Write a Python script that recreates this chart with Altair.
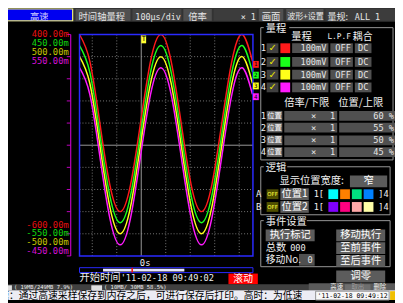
import altair as alt
import pandas as pd

# ---------------- values ----------------
channels = ["1", "2", "3", "4"]
wave_colors = ["#ff1a1a", "#1aff1a", "#ffff1a", "#ff1aff"]
label_colors = ["#e81010", "#10d810", "#c8c800", "#d810d8"]
positions_pct = [60, 55, 50, 45]
volts_per_div = [0.1, 0.1, 0.1, 0.1]
range_labels = ["100mV", "100mV", "100mV", "100mV"]
lpf_labels = ["OFF", "OFF", "OFF", "OFF"]
coupling_labels = ["DC", "DC", "DC", "DC"]
magnifications = [1, 1, 1, 1]

# one recorded waveform (same on all four inputs), sampled every 1/8 period
time_us = [-252, -210, -169, -128, -86, -44, -3, 38, 80, 122, 163, 204,
           246, 288, 329, 370, 412, 454]
signal_v = [0.40, 0.28, 0.00, -0.28, -0.40, -0.28, 0.00, 0.28, 0.40, 0.28,
            0.00, -0.28, -0.40, -0.28, 0.00, 0.28, 0.40, 0.28]

time_domain = [-252, 456]
time_grid_us = [-200, -100, 100, 200, 300, 400]
div_grid = [1, 2, 3, 4, 6, 7, 8, 9]
div_ticks = [0, 1, 2, 3, 4, 5, 6, 7, 8, 9, 10]

logic_a_colors = ["#00ffff", "#ff8000", "#00e080", "#0080ff"]
logic_b_colors = ["#8000ff", "#ff0080", "#ffa8a8", "#ffffa8"]

start_time = "'11-02-18 09:49:02"
clock_time = "'11-02-18 09:49:12"

# ---------------- layout helpers (page pixels -> chart pixels) ----------------
M = 8
X_RANGE = [81 - M, 258 - M]
Y_RANGE = [258 - M, 32 - M]
CJK = "Noto Sans CJK SC"
MONO = "DejaVu Sans Mono"
SANS = "DejaVu Sans"

rect_rows = []


def R(x1, y1, x2, y2, fill, stroke="transparent", sw=1.0):
    rect_rows.append(dict(x=x1 - M, y=y1 - M, x2=x2 - M, y2=y2 - M,
                          fill=fill, stroke=stroke, sw=sw))


top_rows = []


def R2(x1, y1, x2, y2, fill, stroke="transparent", sw=1.0):
    top_rows.append(dict(x=x1 - M, y=y1 - M, x2=x2 - M, y2=y2 - M,
                         fill=fill, stroke=stroke, sw=sw))


texts = []


def T(x, y, s, color="#e8e8e8", size=9, align="left", font=MONO):
    texts.append(dict(x=x - M, y=y - M, text=s, color=color, size=size,
                      align=align, font=font))


BTN = "#505050"
BTXT = "#e6e6e6"

# header bar
HY = 13.8
R(0, 5, 403, 19, "#333333")
R(5, 6, 74, 18, "#0000f0", "#f0f080", 1.2)
T(40, HY, "高速", "#d0d0ff", 9.5, "center", CJK)
R(77, 6, 133, 18, BTN)
T(80, HY, "时间轴量程", BTXT, 9.5, "left", CJK)
R(135, 6, 185, 18, "#444444")
T(138, HY, "100µs/div", BTXT, 8.6, "left", MONO)
R(187, 6, 216, 18, BTN)
T(192, HY, "倍率", BTXT, 9.5, "left", CJK)
R(218, 6, 262, 18, "#3c3c3c")
T(261, HY, "× 1", BTXT, 8.6, "right", MONO)
R(264, 6, 289, 18, BTN)
T(267, HY, "画面", BTXT, 9.5, "left", CJK)
R(292, 6, 330, 18, BTN)
T(293, HY, "波形+设置", BTXT, 8.2, "left", CJK)
R(332, 6, 403, 18, "#3c3c3c")
T(334, HY, "量规:", BTXT, 9.2, "left", CJK)
T(362, HY, "ALL 1", BTXT, 8.6, "left", MONO)

# ---- right panel: group 1 (量程) ----
R(266, 25, 401, 160, "transparent", "#9a9a9a", 1)
R(269, 20, 295, 30, "#000000")
T(271, 26, "量程", "#f0f0f0", 10.5, "left", CJK)
T(297, 35, "量程", "#f0f0f0", 10.5, "left", CJK)
T(334, 35, "L.P.F", "#f0f0f0", 8, "left", MONO)
T(360, 35, "耦合", "#f0f0f0", 10, "left", CJK)
row_y = [46, 60, 73, 86]
for i in range(4):
    y = row_y[i]
    T(266, y, channels[i], "#f0f0f0", 9, "left", MONO)
    R(272, y - 5, 284, y + 5, "#404040")
    T(278, y, "✓", "#e8e800", 10, "center", SANS)
    R(286, y - 5, 296, y + 5, wave_colors[i])
    R(298, y - 5, 335, y + 5, BTN)
    T(333, y, range_labels[i], BTXT, 8.8, "right", MONO)
    R(337, y - 5, 360, y + 5, BTN)
    T(358, y, lpf_labels[i], BTXT, 8.8, "right", MONO)
    R(362, y - 5, 379, y + 5, BTN)
    T(370.5, y, coupling_labels[i], BTXT, 8.8, "center", MONO)

T(290, 102, "倍率/下限", "#f0f0f0", 10.5, "left", CJK)
T(345, 102, "位置/上限", "#f0f0f0", 10.5, "left", CJK)
row2_y = [115, 127, 140, 152]
for i in range(4):
    y = row2_y[i]
    T(266, y, channels[i], "#f0f0f0", 9, "left", MONO)
    R(272, y - 5, 288, y + 5, "#666666")
    T(280, y, "位置", "#ffffff", 7.5, "center", CJK)
    R(290, y - 5, 344, y + 5, BTN)
    T(320, y, "×", BTXT, 9, "center", MONO)
    T(342, y, str(magnifications[i]), BTXT, 8.8, "right", MONO)
    R(346, y - 5, 404, y + 5, BTN)
    T(402, y, f"{positions_pct[i]} %", BTXT, 8.8, "right", MONO)

# ---- group 2 (逻辑) ----
R(266, 167, 398, 216, "transparent", "#9a9a9a", 1)
R(269, 162, 293, 172, "#000000")
T(271, 168, "逻辑", "#f0f0f0", 10.5, "left", CJK)
T(285, 182, "显示位置宽度:", "#f0f0f0", 10.5, "left", CJK)
R(357, 176, 395, 188, "#5c5c5c")
T(376, 182, "窄", "#ffffff", 10.5, "center", CJK)
for lbl, y, cols, btn in [("A", 195, logic_a_colors, "位置1"),
                          ("B", 208, logic_b_colors, "位置2")]:
    T(261, y, lbl, "#f0f0f0", 9, "left", MONO)
    R(272, y - 5, 284, y + 5, "#505000")
    T(278, y, "OFF", "#ffff40", 5.5, "center", SANS)
    R(286, y - 6, 315, y + 6, "#5c5c5c")
    T(300.5, y, btn, "#ffffff", 10.5, "center", CJK)
    T(320, y, "1[", "#f0f0f0", 8.8, "left", MONO)
    for k in range(4):
        R(335 + 12 * k, y - 5, 345 + 12 * k, y + 5, cols[k])
    T(386, y, "]4", "#f0f0f0", 8.8, "left", MONO)

# ---- group 3 (事件设置) ----
R(266, 222, 398, 269, "transparent", "#9a9a9a", 1)
R(269, 217, 313, 227, "#000000")
T(271, 223, "事件设置", "#f0f0f0", 10.5, "left", CJK)
for x1, x2, y1, s in [(271, 321, 231, "执行标记"), (343, 393, 231, "移动执行"),
                      (343, 393, 244, "至前事件"), (343, 393, 257, "至后事件"),
                      (343, 393, 273, "调零")]:
    R(x1, y1, x2, y1 + 12, "#5c5c5c")
    T((x1 + x2) / 2, y1 + 6, s, "#ffffff", 10.5, "center", CJK)
T(271, 250, "总数", "#f0f0f0", 10.5, "left", CJK)
T(296, 250, "000", "#f0f0f0", 8.8, "left", MONO)
T(271, 262, "移动No.", "#f0f0f0", 10, "left", CJK)
R(305, 256, 321, 268, BTN)
T(319, 262, "0", BTXT, 8.8, "right", MONO)

# ---- plot decorations ----
R(233, 276, 263, 287, "#ff0000")
T(248, 281.5, "滚动", "#ffffff", 10, "center", CJK)
T(81, 281, "开始时间", "#f0f0f0", 10.5, "left", CJK)
T(123, 281, start_time, "#f0f0f0", 8.8, "left", MONO)
T(148, 265, "0s", "#f0f0f0", 9, "center", MONO)
R(81, 270, 258, 275, "transparent", "#2a2aff", 1)
R(105, 271, 188, 274, "#e8e8ff")
R(134, 270, 135.5, 275, "#ff0000")

# status bar
R(0, 287, 403, 293, "#404040")
R(4, 288, 12, 293, "#e0e0e0")
T(14, 289.6, "( 19MB/249MB  7.9%)", "#f0f0f0", 5.6, "left", MONO)
R(93, 288, 104, 293, "#e0e0e0")
T(106, 289.6, "( 10MB/ 30MB 58.5%)", "#f0f0f0", 5.6, "left", MONO)
R(315, 286, 403, 293, "#5a5a5a")
T(337, 289.5, "高速", "#f0f0f0", 6.5, "left", CJK)
R(352, 287, 378, 293, "#6e6e6e")
T(365, 289.5, "取出", "#9a9a9a", 6.5, "center", CJK)
T(381, 289.5, "删除", "#f0f0f0", 6.5, "left", CJK)
# message line
R(0, 293, 403, 303, "#ececf4")
T(-1, 298.6, "速：通过高速采样保存到内存之后，可进行保存后打印。高时：为低速",
  "#000000", 10, "left", CJK)
R(322, 294, 397, 303, "#f8f8f8", "#909090", 1)
T(324, 298.7, clock_time, "#000000", 6.6, "left", MONO)
R(398, 294, 403, 303, "#f0c000")

# overlay items drawn above the waves
R2(81, 32, 258, 258, "transparent", "#2a2aff", 1.5)
R2(144, 33, 149, 41, "#ffff30")
for i, y in enumerate([59, 70, 81, 92]):
    R2(258, y, 264, y + 7, wave_colors[i])
T(146.5, 37, "T", "#000000", 7, "center", MONO)
for i, y in enumerate([62.5, 73.5, 84.5, 95.5]):
    T(261, y, channels[i], "#000000", 6, "center", MONO)

# left axis labels (channel range ends)
top_y = [32, 41, 50, 59]
bot_y = [226, 235, 244, 253]
for i in range(4):
    top = (10 - positions_pct[i] / 10) * volts_per_div[i] * 1000
    bot = -(positions_pct[i] / 10) * volts_per_div[i] * 1000
    T(70, top_y[i], f"{top:.2f}m", label_colors[i], 9, "right", MONO)
    T(70, bot_y[i], f"{bot:.2f}m", label_colors[i], 9, "right", MONO)

# ---------------- chart ----------------
xs = alt.Scale(domain=time_domain, range=X_RANGE, nice=False, zero=False)
ys = alt.Scale(domain=[0, 10], range=Y_RANGE, nice=False, zero=False)


def rect_layer(rows):
    return alt.Chart(pd.DataFrame(rows)).mark_rect().encode(
        x=alt.X("x:Q", scale=None, axis=None), x2="x2:Q",
        y=alt.Y("y:Q", scale=None, axis=None), y2="y2:Q",
        fill=alt.Fill("fill:N", scale=None, legend=None),
        stroke=alt.Stroke("stroke:N", scale=None, legend=None),
        strokeWidth=alt.StrokeWidth("sw:Q", scale=None, legend=None),
    )


wave_rows = []
for i, ch in enumerate(channels):
    for t, v in zip(time_us, signal_v):
        wave_rows.append(dict(t=t, yd=positions_pct[i] / 10 + v / volts_per_div[i], ch=ch))
waves_df = pd.DataFrame(wave_rows)

vgrid = alt.Chart(pd.DataFrame({"t": time_grid_us})).mark_rule(
    color="#7a7a7a", strokeDash=[1, 2], strokeWidth=1).encode(
    x=alt.X("t:Q", scale=xs, axis=None), y=alt.value(Y_RANGE[1]), y2=alt.value(Y_RANGE[0]))
hgrid = alt.Chart(pd.DataFrame({"d": div_grid})).mark_rule(
    color="#7a7a7a", strokeDash=[1, 2], strokeWidth=1).encode(
    y=alt.Y("d:Q", scale=ys, axis=None), x=alt.value(X_RANGE[0]), x2=alt.value(X_RANGE[1]))
vcenter = alt.Chart(pd.DataFrame({"t": [0]})).mark_rule(color="#9a9a9a", strokeWidth=1).encode(
    x=alt.X("t:Q", scale=xs, axis=None), y=alt.value(Y_RANGE[1]), y2=alt.value(Y_RANGE[0]))
hcenter = alt.Chart(pd.DataFrame({"d": [5]})).mark_rule(color="#9a9a9a", strokeWidth=1).encode(
    y=alt.Y("d:Q", scale=ys, axis=None), x=alt.value(X_RANGE[0]), x2=alt.value(X_RANGE[1]))
axis_line = alt.Chart(pd.DataFrame({"d": [0]})).mark_rule(color="#c000c0", strokeWidth=1.2).encode(
    x=alt.value(72 - M), y=alt.value(Y_RANGE[1]), y2=alt.value(Y_RANGE[0]))
axis_ticks = alt.Chart(pd.DataFrame({"d": div_ticks})).mark_rule(color="#c000c0", strokeWidth=1).encode(
    y=alt.Y("d:Q", scale=ys, axis=None), x=alt.value(68 - M), x2=alt.value(72 - M))

waves = alt.Chart(waves_df).mark_line(strokeWidth=1.5, interpolate="natural").encode(
    x=alt.X("t:Q", scale=xs, axis=None),
    y=alt.Y("yd:Q", scale=ys, axis=None),
    color=alt.Color("ch:N", scale=alt.Scale(domain=channels, range=wave_colors), legend=None),
    order=alt.Order("t:Q"),
)

text_df = pd.DataFrame(texts)
text_layers = []
for (align, font), g in text_df.groupby(["align", "font"]):
    text_layers.append(
        alt.Chart(g.drop(columns=["align", "font"])).mark_text(
            align=align, baseline="middle", font=font).encode(
            x=alt.X("x:Q", scale=None, axis=None),
            y=alt.Y("y:Q", scale=None, axis=None),
            text="text:N",
            color=alt.Color("color:N", scale=None, legend=None),
            size=alt.Size("size:Q", scale=None, legend=None),
        )
    )

chart = alt.layer(
    rect_layer(rect_rows), vgrid, hgrid, vcenter, hcenter, axis_line, axis_ticks,
    waves, rect_layer(top_rows), *text_layers
).resolve_scale(
    x="independent", y="independent", color="independent", fill="independent",
    stroke="independent", strokeWidth="independent", size="independent"
).properties(
    width=395, height=295, background="#000000", padding=0,
    autosize=alt.AutoSizeParams(type="none"),
).configure_view(strokeWidth=0)

chart.save("out.html", embed_options={"renderer": "svg", "actions": False})
